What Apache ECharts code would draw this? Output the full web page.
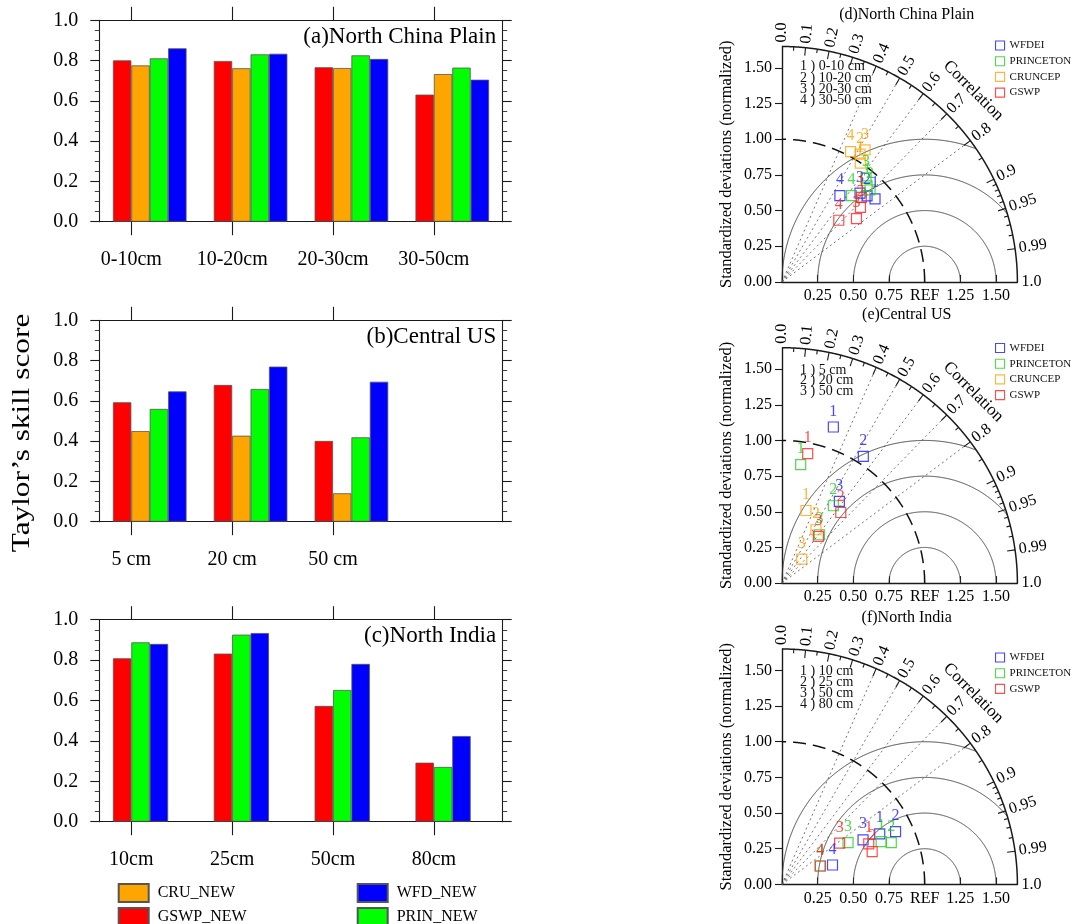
<!DOCTYPE html>
<html><head><meta charset="utf-8">
<script src="https://cdn.jsdelivr.net/npm/echarts@6/dist/echarts.min.js"></script>
<style>html,body{margin:0;padding:0;background:#fff}#c{width:1072px;height:924px}</style>
</head><body><div id="c"></div>
<script>
// ---------------- DATA ----------------
// Bar panels: Taylor's skill score
const catsA = ['0-10cm', '10-20cm', '20-30cm', '30-50cm'];
const gswpA = [0.801, 0.798, 0.767, 0.631];
const cruA  = [0.776, 0.762, 0.763, 0.733];
const prinA = [0.811, 0.831, 0.826, 0.765];
const wfdA  = [0.861, 0.834, 0.808, 0.705];

const catsB = ['5 cm', '20 cm', '50 cm', ''];
const gswpB = [0.593, 0.679, 0.401, null];
const cruB  = [0.450, 0.427, 0.141, null];
const prinB = [0.560, 0.659, 0.419, null];
const wfdB  = [0.647, 0.770, 0.695, null];

const catsC = ['10cm', '25cm', '50cm', '80cm'];
const gswpC = [0.809, 0.832, 0.573, 0.292];
const prinC = [0.888, 0.926, 0.652, 0.271];
const wfdC  = [0.880, 0.934, 0.781, 0.424];
const cruC  = [null, null, null, null];

const scoreTicks = [0, 0.2, 0.4, 0.6, 0.8, 1.0];

// Taylor diagrams: points in normalized std-dev units [x, y]
const depthsD = ['0-10 cm', '10-20 cm', '20-30 cm', '30-50 cm'];
const wfdeiD     = [[0.652, 0.582], [0.596, 0.603], [0.547, 0.622], [0.406, 0.605]];
const princetonD = [[0.596, 0.673], [0.617, 0.645], [0.589, 0.729], [0.488, 0.605]];
const cruncepD   = [[0.549, 0.832], [0.547, 0.895], [0.582, 0.925], [0.481, 0.913]];
const gswpD      = [[0.556, 0.592], [0.550, 0.522], [0.522, 0.444], [0.398, 0.432]];

const depthsE = ['5 cm', '20 cm', '50 cm'];
const wfdeiE     = [[0.360, 1.094], [0.570, 0.888], [0.402, 0.573]];
const princetonE = [[0.131, 0.830], [0.360, 0.542], [0.262, 0.339]];
const cruncepE   = [[0.168, 0.509], [0.238, 0.374], [0.138, 0.168]];
const gswpE      = [[0.180, 0.907], [0.412, 0.495], [0.255, 0.327]];

const depthsF = ['10 cm', '25 cm', '50 cm', '80 cm'];
const wfdeiF     = [[0.685, 0.354], [0.796, 0.370], [0.568, 0.312], [0.354, 0.136]];
const princetonF = [[0.695, 0.300], [0.766, 0.293], [0.463, 0.293], [0.268, 0.129]];
const gswpF      = [[0.608, 0.284], [0.632, 0.230], [0.404, 0.289], [0.268, 0.129]];

const stdTicks = [0, 0.25, 0.5, 0.75, 1.0, 1.25, 1.5];
const corrMajor  = [0.0, 0.1, 0.2, 0.3, 0.4, 0.5, 0.6, 0.7, 0.8, 0.9, 0.95, 0.99, 1.0];
const corrLabels = ['0.0', '0.1', '0.2', '0.3', '0.4', '0.5', '0.6', '0.7', '0.8', '0.9', '0.95', '0.99', '1.0'];
const corrMinor  = [0.05, 0.15, 0.25, 0.35, 0.45, 0.55, 0.65, 0.75, 0.85, 0.91, 0.92, 0.93, 0.94, 0.96, 0.97, 0.98];
const rayCorrs   = [0.4, 0.5, 0.6, 0.7, 0.8];
const rmsRadii   = [0.25, 0.5, 0.75, 1.0];
const STD_MAX = 1.65;

// ---------------- STYLE ----------------
const SERIF = '"Liberation Serif", "Times New Roman", serif';
const INK = '#1a1a1a';
const barColors = { GSWP_NEW: '#ff0000', CRU_NEW: '#ffa500', PRIN_NEW: '#00ff00', WFD_NEW: '#0000ff' };
const tayColors = { WFDEI: '#1a1aff', PRINCETON: '#1ed21e', CRUNCEP: '#ffa20a', GSWP: '#ff2020' };
const BAR_W = 18.4;

const chart = echarts.init(document.getElementById('c'));
const option = { animation: false, backgroundColor: '#fff', grid: [], xAxis: [], yAxis: [], series: [], legend: [], graphic: [] };
const axLine = { show: true, onZero: false, lineStyle: { color: INK, width: 1.1 } };

// ---------------- BAR PANELS ----------------
const barPanels = [
  { title: '(a)North China Plain', cats: catsA, box: { left: 99.3, top: 20.3, width: 403.4, height: 201.4 },
    series: [['GSWP_NEW', gswpA], ['CRU_NEW', cruA], ['PRIN_NEW', prinA], ['WFD_NEW', wfdA]] },
  { title: '(b)Central US', cats: catsB, box: { left: 99.3, top: 320.3, width: 403.4, height: 201.4 },
    series: [['GSWP_NEW', gswpB], ['CRU_NEW', cruB], ['PRIN_NEW', prinB], ['WFD_NEW', wfdB]] },
  { title: '(c)North India', cats: catsC, box: { left: 99.3, top: 619.7, width: 403.4, height: 202 },
    series: [['GSWP_NEW', gswpC], ['PRIN_NEW', prinC], ['WFD_NEW', wfdC], ['CRU_NEW', cruC]] }
];

barPanels.forEach(p => {
  const gi = option.grid.length;
  option.grid.push(Object.assign({}, p.box));
  const n = p.cats.length;
  const band = p.box.width / n;
  const tickVals = [];
  p.cats.forEach((c, k) => { if (c) tickVals.push(k + 0.5 - BAR_W / band); });
  const xCat = option.xAxis.length;
  option.xAxis.push({ type: 'category', gridIndex: gi, data: p.cats, show: false });
  option.xAxis.push({ type: 'value', gridIndex: gi, position: 'bottom', min: 0, max: n,
    axisLine: axLine, splitLine: { show: false },
    axisTick: { show: true, customValues: tickVals, length: 13.5, lineStyle: { color: INK, width: 1.1 } },
    axisLabel: { show: true, customValues: tickVals, formatter: v => p.cats[Math.floor(v + 1e-6)], fontSize: 20, fontFamily: SERIF, color: '#000', margin: 28 } });
  option.xAxis.push({ type: 'value', gridIndex: gi, position: 'top', min: 0, max: n,
    axisLine: axLine, splitLine: { show: false },
    axisTick: { show: true, customValues: tickVals, length: 13.5, lineStyle: { color: INK, width: 1.1 } },
    axisLabel: { show: false } });
  const yL = option.yAxis.length;
  ['left', 'right'].forEach(pos => {
    option.yAxis.push({ type: 'value', gridIndex: gi, position: pos, min: 0, max: 1, interval: 0.2,
      axisLine: axLine, splitLine: { show: false }, minorSplitLine: { show: false },
      axisTick: { show: true, length: 9, lineStyle: { color: INK, width: 1.1 } },
      minorTick: { show: true, splitNumber: 4, length: 4.5, lineStyle: { color: '#444', width: 1 } },
      axisLabel: { show: pos === 'left', customValues: scoreTicks, formatter: v => v.toFixed(1), fontSize: 20, fontFamily: SERIF, color: '#000', margin: 21 } });
  });
  p.series.forEach(([name, data]) => {
    option.series.push({ type: 'bar', name, xAxisIndex: xCat, yAxisIndex: yL, data, barWidth: BAR_W, barGap: '0%',
      itemStyle: { color: barColors[name], borderColor: '#555', borderWidth: 0.8 }, silent: true });
  });
  option.graphic.push({ type: 'text', x: p.box.left + p.box.width - 6.5, y: p.box.top + 16.4,
    style: { text: p.title, align: 'right', verticalAlign: 'middle', fontSize: 23, fontFamily: SERIF, fill: '#000' } });
});

option.graphic.push({ type: 'text', x: 22, y: 433, rotation: Math.PI / 2, scaleX: 1.25,
  style: { text: 'Taylor\u2019s skill score', align: 'center', verticalAlign: 'middle', fontSize: 25, fontFamily: SERIF, fill: '#000' } });

[[117.7, ['CRU_NEW', 'GSWP_NEW']], [356.7, ['WFD_NEW', 'PRIN_NEW']]].forEach(([left, names]) => {
  option.legend.push({ left, top: 883, width: 200, height: 80, orient: 'vertical', padding: 0, itemWidth: 30, itemHeight: 18, itemGap: 4,
    selectedMode: false, icon: 'rect', data: names,
    textStyle: { fontSize: 16, lineHeight: 18, fontFamily: SERIF, color: '#000', padding: [0, 0, 0, 4] } });
});

// ---------------- TAYLOR PANELS ----------------
const taylorPanels = [
  { title: '(d)North China Plain', depths: depthsD, left: 782, top: 46.5, titleY: 15, listTop: 61, listLH: 11.3, legendTop: 40,
    sets: [['WFDEI', wfdeiD], ['PRINCETON', princetonD], ['CRUNCEP', cruncepD], ['GSWP', gswpD]] },
  { title: '(e)Central US', depths: depthsE, left: 782, top: 347.7, titleY: 315, listTop: 364.7, listLH: 10.6, legendTop: 342.5,
    sets: [['WFDEI', wfdeiE], ['PRINCETON', princetonE], ['CRUNCEP', cruncepE], ['GSWP', gswpE]] },
  { title: '(f)North India', depths: depthsF, left: 782, top: 649, titleY: 617.3, listTop: 665.5, listLH: 11, legendTop: 652,
    sets: [['WFDEI', wfdeiF], ['PRINCETON', princetonF], ['GSWP', gswpF]] }
];
const TAY_SIZE = 235.4;

function frameRenderer(params, api) {
  const o = api.coord([0, 0]);
  const ppu = api.coord([1, 0])[0] - o[0];
  const P = (x, y) => api.coord([x, y]);
  const els = [];
  const arcPts = (cx, cy, r, a0, a1, keep) => {
    const pts = [];
    const N = 720;
    for (let k = 0; k <= N; k++) {
      const a = a0 + (a1 - a0) * k / N;
      const x = cx + r * Math.cos(a), y = cy + r * Math.sin(a);
      if (!keep || keep(x, y)) pts.push(P(x, y));
    }
    return pts;
  };
  // dotted correlation rays
  rayCorrs.forEach(c => {
    const s = Math.sqrt(1 - c * c);
    els.push({ type: 'line', shape: { x1: o[0], y1: o[1], x2: P(STD_MAX * c, STD_MAX * s)[0], y2: P(STD_MAX * c, STD_MAX * s)[1] },
      style: { stroke: '#666', lineWidth: 0.9, lineDash: [2, 3] } });
  });
  // RMS difference arcs around REF
  rmsRadii.forEach(r => {
    els.push({ type: 'polyline', shape: { points: arcPts(1, 0, r, 0, Math.PI, (x, y) => x * x + y * y <= STD_MAX * STD_MAX) },
      style: { stroke: '#333', lineWidth: 0.9, fill: null } });
  });
  // REF std-dev arc (dashed)
  els.push({ type: 'polyline', shape: { points: arcPts(0, 0, 1, 0, Math.PI / 2) },
    style: { stroke: '#111', lineWidth: 1.5, fill: null, lineDash: [13, 7] } });
  // outer arc
  els.push({ type: 'polyline', shape: { points: arcPts(0, 0, STD_MAX, 0, Math.PI / 2) },
    style: { stroke: INK, lineWidth: 1.5, fill: null } });
  // correlation ticks and labels
  const tick = (c, len) => {
    const t = Math.acos(c);
    const e = P(STD_MAX * c, STD_MAX * Math.sin(t));
    const dx = Math.cos(t), dy = -Math.sin(t);
    els.push({ type: 'line', shape: { x1: e[0], y1: e[1], x2: e[0] - dx * len, y2: e[1] - dy * len },
      style: { stroke: INK, lineWidth: 1.1 } });
    return [e, dx, dy, t];
  };
  corrMinor.forEach(c => tick(c, 4));
  corrMajor.forEach((c, i) => {
    const [e, dx, dy, t] = (c > 0 && c < 1) ? tick(c, 8) : (() => { const t = Math.acos(c); return [P(STD_MAX * c, STD_MAX * Math.sin(t)), Math.cos(t), -Math.sin(t), t]; })();
    els.push({ type: 'text', x: e[0] + dx * 4, y: e[1] + dy * 4, rotation: t,
      style: { text: corrLabels[i], fill: '#000', fontSize: 16, fontFamily: SERIF, align: 'left', verticalAlign: 'middle' } });
  });
  const tc = Math.PI / 4;
  const rc = STD_MAX * ppu + 35;
  els.push({ type: 'text', x: o[0] + rc * Math.cos(tc), y: o[1] - rc * Math.sin(tc), rotation: tc - Math.PI / 2,
    style: { text: 'Correlation', fill: '#000', fontSize: 17, fontFamily: SERIF, align: 'center', verticalAlign: 'middle' } });
  return { type: 'group', children: els };
}

taylorPanels.forEach(p => {
  const gi = option.grid.length;
  option.grid.push({ left: p.left, top: p.top, width: TAY_SIZE, height: TAY_SIZE });
  const xi = option.xAxis.length, yi = option.yAxis.length;
  option.xAxis.push({ type: 'value', gridIndex: gi, min: 0, max: STD_MAX, axisLine: { show: true, onZero: false, lineStyle: { color: INK, width: 1.4 } },
    splitLine: { show: false },
    axisTick: { show: true, inside: true, length: 7, customValues: stdTicks.slice(1), lineStyle: { color: INK, width: 1.1 } },
    axisLabel: { customValues: stdTicks.slice(1), formatter: v => Math.abs(v - 1) < 1e-9 ? 'REF' : v.toFixed(2), fontSize: 16, fontFamily: SERIF, color: '#000', margin: 6 } });
  option.yAxis.push({ type: 'value', gridIndex: gi, min: 0, max: STD_MAX, axisLine: { show: true, onZero: false, lineStyle: { color: INK, width: 1.4 } },
    splitLine: { show: false },
    axisTick: { show: true, length: 7, customValues: stdTicks, lineStyle: { color: INK, width: 1.1 } },
    axisLabel: { customValues: stdTicks, formatter: v => v.toFixed(2), fontSize: 16, fontFamily: SERIF, color: '#000', margin: 10 },
    name: 'Standardized deviations (normalized)', nameLocation: 'middle', nameRotate: 90, nameGap: 47,
    nameTextStyle: { fontSize: 16.5, fontFamily: SERIF, color: '#000' } });
  option.series.push({ type: 'custom', xAxisIndex: xi, yAxisIndex: yi, data: [[0, 0]], clip: false, silent: true, z: 1, renderItem: frameRenderer });
  p.sets.forEach(([name, pts]) => {
    const col = tayColors[name];
    option.series.push({ type: 'scatter', name, xAxisIndex: xi, yAxisIndex: yi, data: pts, symbol: 'rect', symbolSize: 10, z: 3, silent: true,
      itemStyle: { color: 'rgba(0,0,0,0)', borderColor: col, borderWidth: 1.2 },
      label: { show: true, position: 'top', distance: 2, formatter: q => String(q.dataIndex + 1), color: col, fontSize: 16, fontFamily: SERIF } });
  });
  option.graphic.push({ type: 'text', x: 906.7, y: p.titleY,
    style: { text: p.title, align: 'center', verticalAlign: 'middle', fontSize: 16, fontFamily: SERIF, fill: '#000' } });
  option.graphic.push({ type: 'text', x: 800, y: p.listTop,
    style: { text: p.depths.map((d, i) => (i + 1) + ' ) ' + d).join('\n'), lineHeight: p.listLH, align: 'left', verticalAlign: 'top', fontSize: 14, fontFamily: SERIF, fill: '#111' } });
  option.legend.push({ left: 995, top: p.legendTop, orient: 'vertical', padding: 0, itemWidth: 9, itemHeight: 9, itemGap: 4.7, selectedMode: false,
    data: p.sets.map(([name]) => ({ name, icon: 'rect', itemStyle: { color: 'rgba(0,0,0,0)', borderColor: tayColors[name], borderWidth: 1.1 } })),
    textStyle: { fontSize: 11, lineHeight: 11, fontFamily: SERIF, color: '#111' } });
});

chart.setOption(option);
</script></body></html>
